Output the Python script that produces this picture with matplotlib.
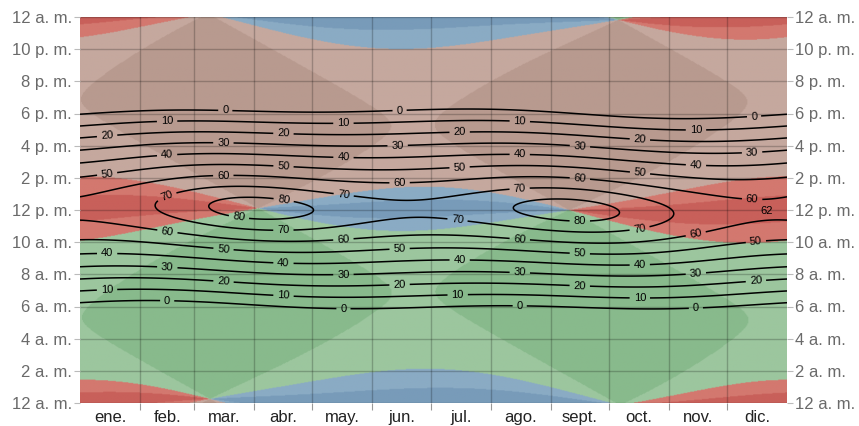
import numpy as np
import matplotlib
matplotlib.use("Agg")
import matplotlib.pyplot as plt
from matplotlib.colors import to_rgb

# ---------------- data / parameters ----------------
latitude = 5.0          # degrees N (read from noon elevations: ~80 at equinox, 62 in Dec)
longitude = -75.7       # degrees E
utc_offset = -5         # hours
months = ["ene.", "feb.", "mar.", "abr.", "may.", "jun.",
          "jul.", "ago.", "sept.", "oct.", "nov.", "dic."]
month_days = [31, 28, 31, 30, 31, 30, 31, 31, 30, 31, 30, 31]
hour_ticks = [0, 2, 4, 6, 8, 10, 12, 14, 16, 18, 20, 22, 24]
hour_labels = ["12 a. m.", "2 a. m.", "4 a. m.", "6 a. m.", "8 a. m.", "10 a. m.",
               "12 p. m.", "2 p. m.", "4 p. m.", "6 p. m.", "8 p. m.", "10 p. m.", "12 a. m."]
levels = [0, 10, 20, 30, 40, 50, 60, 70, 80]
# colours by compass direction: (core, tinted)
dir_colors = {
    "N": ("#789bb9", "#8aabc4"),
    "E": ("#88ba8c", "#9cc69e"),
    "S": ("#c8605a", "#d3786f"),
    "W": ("#b89a8f", "#c5a89e"),
}
# contour label positions (day of year, hour)
label_pos = [
    (75, 18.16), (165, 18.16), (348, 17.8),
    (45, 17.35), (136, 17.3), (227, 17.4), (318, 16.97),
    (14, 16.6), (105, 16.66), (196, 16.8), (289, 16.3),
    (74, 16.04), (164, 15.92), (258, 15.8), (347, 15.48),
    (45, 15.36), (136, 15.17), (227, 15.36), (318, 14.8),
    (14, 14.24), (105, 14.6), (196, 14.55), (289, 14.18),
    (74, 13.99), (165, 13.55), (258, 13.87), (347, 12.68),
    (45, 12.81), (136, 12.81), (227, 13.24),
    (105, 12.5), (82, 11.5), (258, 11.19),
    (105, 10.69), (195, 11.5), (289, 10.76),
    (45, 10.57), (136, 10.13), (227, 10.13), (318, 10.45),
    (74, 9.45), (165, 9.58), (258, 9.2), (349, 9.95),
    (14, 9.14), (105, 8.58), (196, 8.83), (289, 8.52),
    (45, 8.27), (136, 7.9), (227, 7.96), (318, 7.96),
    (74, 7.4), (165, 7.27), (258, 7.27), (349, 7.52),
    (14, 6.9), (105, 6.53), (195, 6.65), (289, 6.4),
    (45, 6.28), (136, 5.78), (227, 5.97), (318, 5.78),
]
max_label = ("62", 354.7, 11.94)

# ---------------- solar geometry ----------------
day = np.linspace(0, 365, 731)
hour = np.linspace(0, 24, 577)
D, Hh = np.meshgrid(day, hour)
g = 2 * np.pi * (D + (Hh - 12) / 24) / 365.0
eqt = 229.18 * (0.000075 + 0.001868 * np.cos(g) - 0.032077 * np.sin(g)
                - 0.014615 * np.cos(2 * g) - 0.040849 * np.sin(2 * g))
decl = (0.006918 - 0.399912 * np.cos(g) + 0.070257 * np.sin(g)
        - 0.006758 * np.cos(2 * g) + 0.000907 * np.sin(2 * g)
        - 0.002697 * np.cos(3 * g) + 0.00148 * np.sin(3 * g))
tst = Hh * 60 + eqt + 4 * longitude - 60 * utc_offset
ha = np.radians(tst / 4 - 180)
phi = np.radians(latitude)
elev = np.degrees(np.arcsin(np.sin(phi) * np.sin(decl) + np.cos(phi) * np.cos(decl) * np.cos(ha)))
az = (np.degrees(np.arctan2(np.sin(ha), np.cos(ha) * np.sin(phi) - np.tan(decl) * np.cos(phi))) + 180) % 360

k = np.round(az / 90).astype(int) % 4
dev = np.abs(az - 90 * np.round(az / 90))
names = ["N", "E", "S", "W"]
img = np.zeros(az.shape + (3,))
for i, n in enumerate(names):
    core, tint = dir_colors[n]
    img[(k == i) & (dev <= 22.5)] = to_rgb(core)
    img[(k == i) & (dev > 22.5)] = to_rgb(tint)

# ---------------- figure ----------------
plt.rcParams['font.family'] = ['Liberation Sans', 'DejaVu Sans']
fig = plt.figure(figsize=(8.59, 4.26), dpi=100)
ax = fig.add_axes([80 / 859, 23 / 426, 707 / 859, 386 / 426])
ax.imshow(img, origin='lower', extent=[0, 365, 0, 24], aspect='auto',
          interpolation='bilinear', zorder=0)

cs = ax.contour(D, Hh, elev, levels=levels, colors='black', linewidths=1.1, zorder=3)
ax.clabel(cs, levels=levels, manual=label_pos, inline=True, fmt='%d',
          fontsize=8, inline_spacing=4)
ax.text(max_label[1], max_label[2], max_label[0], fontsize=8, ha='center',
        va='center', color='black', zorder=4)

starts = np.concatenate([[0], np.cumsum(month_days)])
mids = (starts[:-1] + starts[1:]) / 2
ax.set_xlim(0, 365)
ax.set_ylim(0, 24)
ax.set_xticks(starts[1:-1])
ax.set_xticklabels([])
ax.set_xticks(mids, minor=True)
ax.set_xticklabels(months, minor=True, fontsize=12, color='#222222')
ax.tick_params(axis='x', which='minor', length=0, pad=5)
ax.tick_params(axis='x', which='major', length=5, color='#999999')
ax.set_yticks(hour_ticks)
ax.set_yticklabels(hour_labels, fontsize=12, color='#6a6a6a')
ax.tick_params(axis='y', which='major', length=4, color='#bbbbbb', pad=2,
               left=True, right=True, labelleft=True, labelright=True)
ax.grid(True, which='major', color='black', alpha=0.22, linewidth=1)
ax.set_axisbelow(False)
for s in ax.spines.values():
    s.set_visible(False)

fig.savefig("out.png", dpi=100)
